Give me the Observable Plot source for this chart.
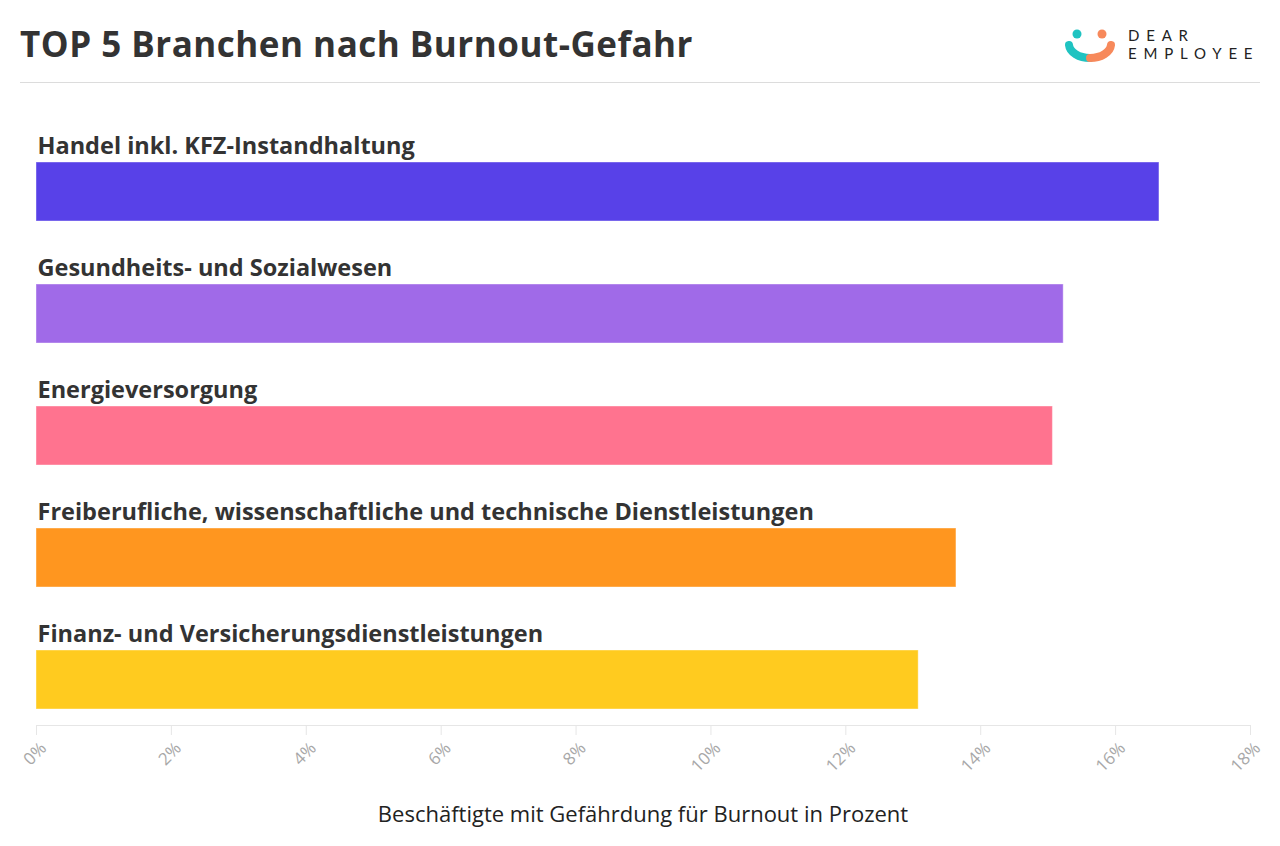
<!DOCTYPE html>
<html><head><meta charset="utf-8">
<script src="https://cdn.jsdelivr.net/npm/d3@7"></script>
<script src="https://cdn.jsdelivr.net/npm/@observablehq/plot@0.6"></script>
<style>
body{margin:0;background:#fff;font-family:"Open Sans","Noto Sans",sans-serif;}
#wrap{position:relative;width:1280px;height:846px;overflow:hidden;}
#title{position:absolute;left:20px;top:19px;font-size:35px;font-weight:bold;color:#333;letter-spacing:0.5px;line-height:50px;}
#sep{position:absolute;left:20px;top:82px;width:1240px;height:1px;background:#dcdcdc;}
#logo{position:absolute;left:1060px;top:20px;}
#chart{position:absolute;left:0;top:100px;}
#xtitle{position:absolute;left:0;width:1286px;top:798px;text-align:center;font-size:22px;color:#222;}
</style></head>
<body><div id="wrap">
<div id="title">TOP 5 Branchen nach Burnout-Gefahr</div>
<svg id="logo" width="210" height="50">
  <circle cx="17" cy="14" r="4.5" fill="#1fc3c1"/>
  <circle cx="42" cy="14" r="4.5" fill="#f7895b"/>
  <path d="M9,25 A21,14 0 0 0 30,38" fill="none" stroke="#1fc3c1" stroke-width="8" stroke-linecap="round"/>
  <path d="M30,38 A21,14 0 0 0 51,25" fill="none" stroke="#f7895b" stroke-width="8" stroke-linecap="round"/>
  <text x="68" y="21" font-family="Lato, sans-serif" font-size="15" letter-spacing="6.8" fill="#222">DEAR</text>
  <text x="68" y="39" font-family="Lato, sans-serif" font-size="15" letter-spacing="6.8" fill="#222">EMPLOYEE</text>
</svg>
<div id="sep"></div>
<div id="chart"></div>
<div id="xtitle">Beschäftigte mit Gefährdung für Burnout in Prozent</div>
</div>
<script>
const categories = ["Handel inkl. KFZ-Instandhaltung","Gesundheits- und Sozialwesen","Energieversorgung","Freiberufliche, wissenschaftliche und technische Dienstleistungen","Finanz- und Versicherungsdienstleistungen"];
const values = [16.65, 15.23, 15.07, 13.64, 13.08];
const colors = ["#5841e8","#a06ae8","#ff738f","#ff961f","#ffcb1f"];
const xTicks = [0,2,4,6,8,10,12,14,16,18];

const data = categories.map((c,i)=>({name:c, value:values[i], color:colors[i]}));

const chart = Plot.plot({
  width: 1280,
  height: 685,
  marginLeft: 36,
  marginRight: 30,
  marginTop: 0,
  marginBottom: 60,
  insetBottom: 15,
  style: {fontFamily: "'Open Sans', 'Noto Sans', sans-serif", background: "transparent"},
  x: {domain: [0, 18], ticks: xTicks, tickFormat: d => d + "%", label: null},
  y: {domain: categories, padding: 0, axis: null},
  color: {type: "identity"},
  marks: [
    Plot.frame({anchor: "bottom", stroke: "#e6e6e6"}),
    Plot.axisX({ticks: xTicks, tickFormat: () => "", tickSize: 10, stroke: "#e6e6e6", label: null}),
    Plot.axisX({ticks: xTicks, tickFormat: d => d + "%", tickSize: 0, tickRotate: -45, fontSize: 17, fill: "#a8a8a8", textStroke: "none", tickPadding: 20, dx: 7, label: null}),
    Plot.barX(data, {x: "value", y: "name", fill: "color", insetTop: 62, insetBottom: 1, stroke: "white", strokeOpacity: 0.4, strokeWidth: 1}),
    Plot.text(data, {y: "name", text: "name", frameAnchor: "left", textAnchor: "start", dx: 1, dy: -15, fontSize: 23.5, fontWeight: "bold", fill: "#333", letterSpacing: "0.2px"})
  ]
});
document.getElementById("chart").appendChild(chart);
</script>
</body></html>
